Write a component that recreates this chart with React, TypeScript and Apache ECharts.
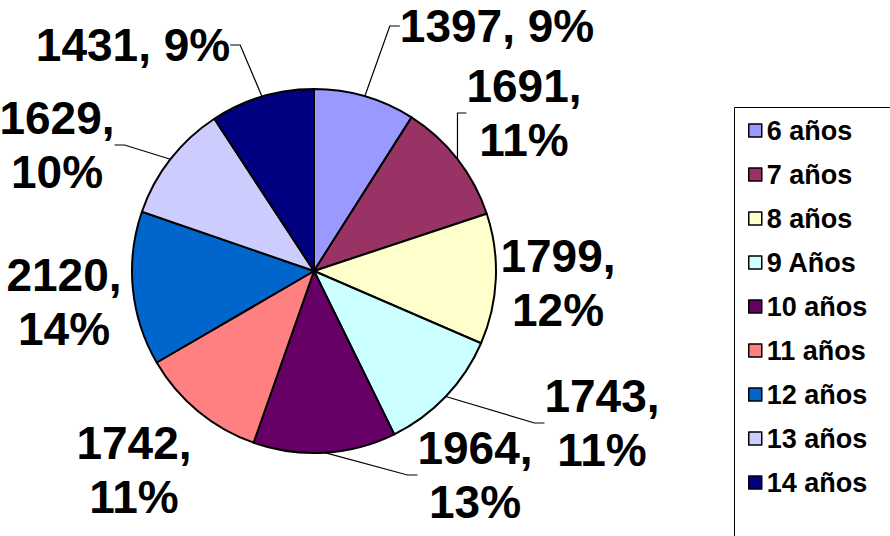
import React, { useEffect, useRef } from "react";
import * as echarts from "echarts";

const categories = ["6 años", "7 años", "8 años", "9 Años", "10 años", "11 años", "12 años", "13 años", "14 años"];
const values = [1397, 1691, 1799, 1743, 1964, 1742, 2120, 1629, 1431];
const colors = ["#9999FF", "#993366", "#FFFFCC", "#CCFFFF", "#660066", "#FF8080", "#0066CC", "#CCCCFF", "#000080"];
// label block centres (text placement only)
const labelCenters = [
  [497, 26], [524, 113], [558, 283], [602, 423], [475, 475],
  [134, 470], [64, 302], [57, 145], [133, 45],
];
const wrapLabel = [false, true, true, true, true, true, true, true, false];
const showLeader = [true, true, false, true, true, false, false, true, true];

export default function App() {
  const ref = useRef<HTMLDivElement>(null);
  useEffect(() => {
    if (!ref.current) return;
    const chart = echarts.init(ref.current, null, { renderer: "svg" });
    const font = '"Liberation Sans", Arial, sans-serif';
    chart.setOption({
      animation: false,
      backgroundColor: "#ffffff",
      graphic: [
        {
          type: "rect",
          left: 732,
          top: 105,
          shape: { width: 156, height: 460 },
          style: { fill: "none", stroke: "#000", lineWidth: 1 },
          silent: true,
        },
      ],
      legend: {
        orient: "vertical",
        left: 732,
        top: 105,
        padding: [12, 0, 0, 16],
        itemWidth: 13,
        itemHeight: 13,
        itemGap: 17,
        icon: "rect",
        itemStyle: { borderColor: "#000", borderWidth: 1.5 },
        formatter: (name: string) => `{b|${name}}`,
        textStyle: {
          color: "#000",
          rich: {
            b: { fontFamily: font, fontWeight: 700, fontSize: 27, color: "#000" },
          },
        },
        data: categories,
      },
      series: [
        {
          type: "pie",
          center: [314, 271],
          radius: 182,
          startAngle: 90,
          clockwise: true,
          percentPrecision: 0,
          avoidLabelOverlap: false,
          itemStyle: { borderColor: "#000", borderWidth: 2 },
          emphasis: { disabled: true },
          label: {
            show: true,
            position: "outside",
            fontFamily: font,
            fontWeight: "bold",
            fontSize: 46,
            lineHeight: 54,
            color: "#000",
            formatter: (p: any) => `${p.value},${wrapLabel[p.dataIndex] ? "\n" : " "}${p.percent}%`,
          },
          labelLine: { show: true, lineStyle: { color: "#000", width: 1.2 }, length: 10, length2: 10 },
          labelLayout: (p: any) => {
            const c = labelCenters[p.dataIndex];
            return { x: c[0], y: c[1], align: "center", verticalAlign: "middle" };
          },
          data: categories.map((name, i) => ({
            name,
            value: values[i],
            itemStyle: { color: colors[i] },
            labelLine: { show: showLeader[i] },
          })),
        },
      ],
    });
    return () => chart.dispose();
  }, []);
  return <div ref={ref} style={{ position: "absolute", left: 0, top: 0, width: 890, height: 536 }} />;
}
